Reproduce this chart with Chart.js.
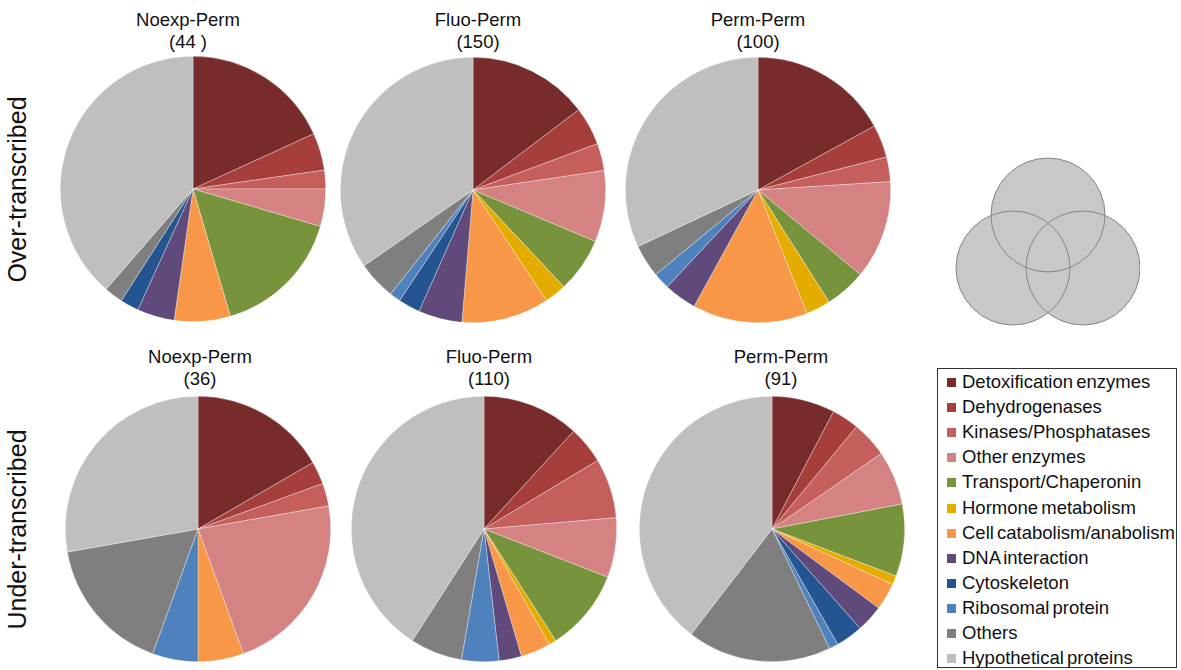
<!DOCTYPE html>
<html>
<head>
<meta charset="utf-8">
<script src="https://cdn.jsdelivr.net/npm/chart.js@4.4.1/dist/chart.umd.min.js"></script>
<style>
    body { margin: 0; background: #fff; font-family: "Liberation Sans", Arial, sans-serif; }
    #page { position: relative; width: 1181px; height: 670px; overflow: hidden; }
    .pie { position: absolute; width: 266px; height: 266px; }
    .title { position: absolute; width: 200px; text-align: center; font-size: 18.5px; line-height: 22px; color: #111; }
    .rowlabel { position: absolute; width: 300px; text-align: center; font-size: 25px; color: #111;
                transform: rotate(-90deg); transform-origin: center center; }
    #legend { position: absolute; left: 937px; top: 368px; width: 238px; height: 298px; border: 1px solid #333; }
    .item { position: absolute; left: 9px; font-size: 18.5px; line-height: 20px; color: #111; word-spacing: -2px; white-space: nowrap; }
    .item span { display: inline-block; width: 9px; height: 9px; margin-right: 6px; vertical-align: 1px; }
</style>
</head>
<body>
<div id="page">
    <div class="rowlabel" style="left:-133px; top:175px;">Over-transcribed</div>
    <div class="rowlabel" style="left:-133px; top:515px;">Under-transcribed</div>

    <svg style="position:absolute; left:940px; top:150px;" width="200" height="180">
        <g fill="#c8c8c8">
            <circle cx="108" cy="65" r="57"/>
            <circle cx="73" cy="118" r="57"/>
            <circle cx="143" cy="118" r="57"/>
        </g>
        <g fill="none" stroke="#858585" stroke-width="1">
            <circle cx="108" cy="65" r="57"/>
            <circle cx="73" cy="118" r="57"/>
            <circle cx="143" cy="118" r="57"/>
        </g>
    </svg>

    <div id="legend"></div>
</div>

<script>
const categories = [
    'Detoxification enzymes', 'Dehydrogenases', 'Kinases/Phosphatases', 'Other enzymes',
    'Transport/Chaperonin', 'Hormone metabolism', 'Cell catabolism/anabolism', 'DNA interaction',
    'Cytoskeleton', 'Ribosomal protein', 'Others', 'Hypothetical proteins'
]
const colors = [
    '#772c2b', '#a63f3c', '#c45f5c', '#d48382',
    '#77933c', '#e5ac00', '#f79747', '#604a7b',
    '#245590', '#4f81bd', '#7f7f7f', '#bfbfbf'
]

// gene counts per category
const overNoexp = [8, 2, 1, 2, 7, 0, 3, 2, 1, 0, 1, 17]        // 44
const overFluo  = [22, 7, 5, 13, 10, 4, 16, 8, 4, 2, 7, 52]    // 150
const overPerm  = [17, 4, 3, 12, 5, 3, 14, 4, 0, 2, 4, 32]     // 100
const underNoexp = [6, 1, 1, 8, 0, 0, 2, 0, 0, 2, 6, 10]       // 36
const underFluo  = [13, 5, 8, 8, 11, 1, 4, 3, 0, 5, 7, 45]     // 110
const underPerm  = [7, 3, 4, 6, 8, 1, 3, 3, 3, 1, 16, 36]      // 91

const titles = ['Noexp-Perm', 'Fluo-Perm', 'Perm-Perm', 'Noexp-Perm', 'Fluo-Perm', 'Perm-Perm']
const countLabels = ['(44 )', '(150)', '(100)', '(36)', '(110)', '(91)']

const series = [overNoexp, overFluo, overPerm, underNoexp, underFluo, underPerm]
// pie centres on the page and title centres
const pieCentres = [[193, 189], [473, 190], [758, 190], [198, 529], [484, 529], [772, 529]]
const titleX = [188, 478, 758, 200, 489, 781]

const page = document.getElementById('page')

series.forEach((data, i) => {
    const [cx, cy] = pieCentres[i]
    const box = document.createElement('div')
    box.className = 'pie'
    box.style.left = (cx - 133) + 'px'
    box.style.top = (cy - 133) + 'px'
    const canvas = document.createElement('canvas')
    box.appendChild(canvas)
    page.appendChild(box)

    const t = document.createElement('div')
    t.className = 'title'
    t.style.left = (titleX[i] - 100) + 'px'
    t.style.top = (i < 3 ? 9 : 346) + 'px'
    t.innerHTML = titles[i] + '<br>' + countLabels[i]
    page.appendChild(t)

    new Chart(canvas, {
        type: 'pie',
        data: {
            labels: categories,
            datasets: [{
                data: data,
                backgroundColor: colors,
                borderColor: 'rgba(255,255,255,0.55)',
                borderWidth: (c) => c.raw === 0 ? 0 : 0.6
            }]
        },
        options: {
            responsive: true,
            maintainAspectRatio: false,
            animation: false,
            layout: { padding: 0 },
            plugins: {
                legend: { display: false },
                tooltip: { enabled: false },
                title: { display: false }
            }
        }
    })
})

// legend box
const legend = document.getElementById('legend')
categories.forEach((name, i) => {
    const row = document.createElement('div')
    row.className = 'item'
    row.style.top = (3 + i * 25.1) + 'px'
    row.innerHTML = '<span style="background:' + colors[i] + '"></span>' + name
    legend.appendChild(row)
})
</script>
</body>
</html>
